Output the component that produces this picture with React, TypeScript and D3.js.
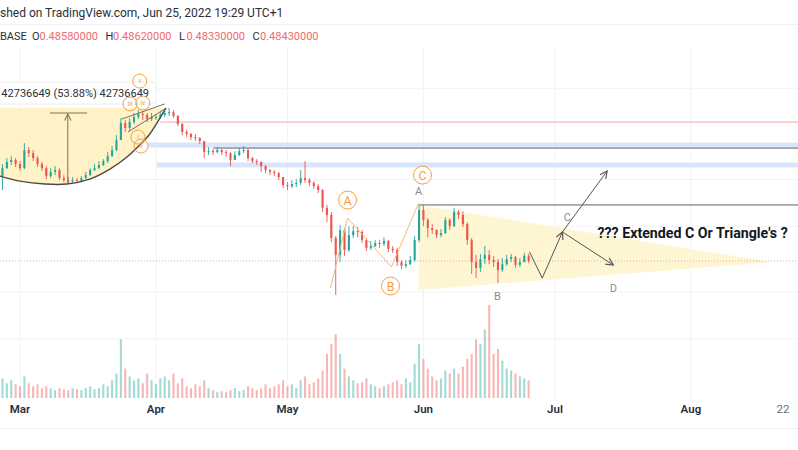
import React from 'react';
import * as d3 from 'd3';

const W = 798;
const H = 450;
const DAY = 86400000;
const MAR1 = Date.UTC(2022, 2, 1);
const at = (d: number) => new Date(MAR1 + d * DAY);

// Daily candles, first candle = Feb 24 2022 (day -5 from Mar 1), last = Jun 25 2022
const FIRST_DAY = -5;
const firstOpen = 0.807;
const closes = [
  0.817, 0.858, 0.891, 0.902, 0.880,
  0.858, 0.959, 0.941, 0.913, 0.880, 0.858, 0.817, 0.838, 0.848, 0.807,
  0.797, 0.792, 0.797, 0.792, 0.807, 0.822, 0.848, 0.858, 0.875, 0.896,
  0.924, 0.959, 1.020, 1.133, 1.099, 1.140, 1.176, 1.198, 1.190, 1.161,
  1.176, 1.176, 1.190, 1.205, 1.212, 1.183, 1.126, 1.072, 1.059, 1.039,
  1.033, 1.014, 0.947, 0.953, 0.947, 0.959, 0.947, 0.941, 0.902, 0.930,
  0.953, 0.959, 0.913, 0.896, 0.891, 0.869, 0.848, 0.838, 0.832, 0.812,
  0.773, 0.768, 0.778, 0.783, 0.807, 0.797, 0.783, 0.768, 0.750, 0.672,
  0.643, 0.558, 0.503, 0.586, 0.518, 0.568, 0.582, 0.579, 0.551, 0.525,
  0.531, 0.541, 0.538, 0.548, 0.522, 0.518, 0.481, 0.470, 0.475, 0.487,
  0.551, 0.663, 0.623, 0.593, 0.586, 0.568, 0.575, 0.623, 0.600, 0.655,
  0.643, 0.608, 0.551, 0.481, 0.464, 0.490, 0.503, 0.487, 0.481, 0.458,
  0.475, 0.490, 0.496, 0.473, 0.481, 0.500, 0.4843,
];
const highs = [
  0.843, 0.880, 0.913, 0.924, 0.913,
  0.896, 1.001, 0.977, 0.959, 0.924, 0.891, 0.869, 0.858, 0.869, 0.858,
  0.822, 0.812, 0.812, 0.807, 0.817, 0.838, 0.858, 0.880, 0.896, 0.907,
  0.947, 0.983, 1.052, 1.168, 1.154, 1.168, 1.205, 1.227, 1.220, 1.205,
  1.205, 1.198, 1.212, 1.227, 1.243, 1.227, 1.190, 1.133, 1.085, 1.065,
  1.059, 1.039, 1.014, 0.977, 0.965, 0.977, 0.965, 0.959, 0.947, 0.953,
  0.971, 0.983, 0.965, 0.919, 0.907, 0.896, 0.875, 0.853, 0.848, 0.838,
  0.812, 0.787, 0.797, 0.802, 0.848, 0.896, 0.807, 0.792, 0.778, 0.754,
  0.684, 0.655, 0.565, 0.604, 0.593, 0.600, 0.600, 0.597, 0.586, 0.558,
  0.548, 0.551, 0.551, 0.561, 0.551, 0.531, 0.525, 0.487, 0.487, 0.500,
  0.565, 0.688, 0.684, 0.631, 0.608, 0.589, 0.589, 0.635, 0.631, 0.672,
  0.663, 0.659, 0.615, 0.558, 0.503, 0.506, 0.531, 0.518, 0.500, 0.490,
  0.493, 0.503, 0.506, 0.500, 0.493, 0.509, 0.506,
];
const lows = [
  0.792, 0.750, 0.853, 0.875, 0.864,
  0.843, 0.853, 0.919, 0.896, 0.864, 0.843, 0.802, 0.807, 0.822, 0.797,
  0.787, 0.783, 0.783, 0.783, 0.787, 0.802, 0.817, 0.843, 0.853, 0.869,
  0.885, 0.919, 0.953, 1.020, 1.072, 1.085, 1.126, 1.161, 1.154, 1.140,
  1.147, 1.154, 1.161, 1.176, 1.183, 1.168, 1.112, 1.052, 1.039, 1.020,
  1.014, 0.995, 0.913, 0.930, 0.930, 0.941, 0.930, 0.919, 0.869, 0.902,
  0.924, 0.941, 0.896, 0.885, 0.875, 0.838, 0.832, 0.822, 0.817, 0.797,
  0.759, 0.750, 0.759, 0.764, 0.773, 0.783, 0.768, 0.754, 0.736, 0.655,
  0.615, 0.544, 0.393, 0.481, 0.500, 0.512, 0.558, 0.561, 0.541, 0.515,
  0.518, 0.528, 0.525, 0.531, 0.512, 0.509, 0.470, 0.461, 0.464, 0.4725,
  0.481, 0.544, 0.600, 0.561, 0.572, 0.558, 0.561, 0.572, 0.586, 0.597,
  0.627, 0.597, 0.535, 0.447, 0.436, 0.453, 0.475, 0.475, 0.467, 0.423,
  0.453, 0.470, 0.481, 0.464, 0.467, 0.481, 0.478,
];
const volumes = [
  30, 20, 15, 18, 14,
  12, 22, 15, 12, 14, 10, 12, 10, 8, 10,
  9, 8, 10, 9, 8, 10, 12, 9, 10, 14,
  12, 18, 25, 60, 30, 22, 18, 20, 15, 25,
  18, 14, 20, 22, 18, 25, 15, 20, 12, 10,
  14, 12, 18, 10, 8, 6, 7, 6, 8, 10,
  7, 8, 12, 10, 8, 10, 14, 10, 12, 14,
  18, 12, 14, 10, 18, 22, 14, 16, 20, 28,
  45, 55, 65, 45, 30, 22, 18, 15, 16, 20,
  14, 12, 10, 12, 14, 16, 18, 14, 20, 16,
  35, 55, 40, 30, 22, 18, 20, 28, 25, 30,
  25, 32, 40, 45, 60, 55, 70, 95, 45, 50,
  38, 30, 28, 25, 22, 20, 18,
];

// Time axis
const tickDays = [0, 31, 61, 92, 122, 153, 174];
const tickLabels = ['Mar', 'Apr', 'May', 'Jun', 'Jul', 'Aug', '22'];
const gridPrices = [0.3, 0.4, 0.6, 0.8, 1.0, 1.4];

// Header texts
const publishedText = 'shed on TradingView.com, Jun 25, 2022 19:29 UTC+1';
const symbolText = 'BASE';
const ohlcKeys = ['O', 'H', 'L', 'C'];
const ohlcValues = ['0.48580000', '0.48620000', '0.48330000', '0.48430000'];
const lastPrice = 0.4843;

// Cup (arc) drawing
const cupDays = [-8, -4.56, 0, 5.69, 10.7, 15.9, 20.5, 24.4, 27.3, 29.6, 31.9, 33.3];
const cupPrices = [0.843, 0.817, 0.792, 0.778, 0.778, 0.802, 0.853, 0.919, 0.989, 1.059, 1.168, 1.243];
const cupRim = 1.243;
// Price range measurement
const measureDay = 10.9;
const measureLow = 0.783;
const measureHigh = 1.205;
const measureCapDays = [6.83, 15.3];
const measureText = '42736649 (53.88%) 42736649';
// Wedge lines
const wedgeUpperDays = [23.2, 33.0];
const wedgeUpperPrices = [1.161, 1.274];
const wedgeLowerDays = [24.6, 33.0];
const wedgeLowerPrices = [1.072, 1.235];
// Small Elliott sub-wave circles
const subDays = [27.3, 25.1, 28.0, 26.9, 27.6];
const subPrices = [1.467, 1.274, 1.281, 1.039, 0.983];
const subLabels = ['v', 'iii', 'iv', 'i', 'ii'];

// Horizontal levels
const levelKinds = ['red', 'band', 'dark', 'band', 'dark'];
const levelStartDays = [32.0, 29.2, 44.1, 31.2, 91.1];
const levelPrices = [1.140, 0.989, 0.971, 0.875, 0.684];

// ABC correction
const abcDays = [70.8, 74.7, 84.7, 90.9];
const abcPrices = [0.410, 0.631, 0.467, 0.692];
const waveLabels = ['A', 'B', 'C'];
const waveDays = [74.7, 84.5, 91.8];
const wavePrices = [0.705, 0.415, 0.822];

// Triangle
const triDays = [90.9, 171.5, 90.9];
const triPrices = [0.684, 0.481, 0.405];

// Projection path
const projDays = [116.2, 119.1, 123.7];
const projPrices = [0.512, 0.436, 0.579];
const branchDays = [133.9, 135.3];
const branchPrices = [0.843, 0.4725];

// Gray labels
const grayLabels = ['A', 'B', 'C', 'D'];
const grayDays = [90.9, 108.9, 124.8, 135.3];
const grayPrices = [0.741, 0.388, 0.635, 0.410];

const noteText = "??? Extended C Or Triangle's ?";
const noteDay = 131.7;
const notePrice = 0.575;

const FONT = "Roboto, 'Noto Sans', 'DejaVu Sans', sans-serif";
const UP = '#26a69a';
const DOWN = '#ef5350';
const ORANGE = '#f6a13f';

export default function App() {
  const x = d3.scaleUtc().domain([at(0), at(174)]).range([20, 783]);
  const y = d3.scaleLog().domain([lastPrice, measureHigh]).range([261, 113]);
  const v = d3.scaleLinear().domain([0, 100]).range([398, 300]);
  const X = (d: number) => x(at(d));

  const candles = closes.map((c, i) => ({
    d: i + FIRST_DAY,
    o: i === 0 ? firstOpen : closes[i - 1],
    h: highs[i],
    l: lows[i],
    c,
    vol: volumes[i],
  }));

  const line = d3.line<[number, number]>().x((p) => X(p[0])).y((p) => y(p[1]));
  const cupPts: [number, number][] = cupDays.map((d, i) => [d, cupPrices[i]]);
  const cupCurve = d3.line<[number, number]>().x((p) => X(p[0])).y((p) => y(p[1])).curve(d3.curveCatmullRom);
  const cupPath = cupCurve(cupPts) as string;
  const cupFill = cupPath + `L${X(cupDays[0])},${y(cupRim)}Z`;

  const triPath = line(triDays.map((d, i) => [d, triPrices[i]] as [number, number])) + 'Z';
  const abcPath = line(abcDays.map((d, i) => [d, abcPrices[i]] as [number, number]));
  const bw = 2.1;

  return (
    <svg width={W} height={H} style={{ position: 'absolute', left: 0, top: 0, background: '#fff' }} fontFamily={FONT}>
      <defs>
        <marker id="arrG" viewBox="0 0 10 10" refX="9" refY="5" markerWidth="9" markerHeight="9" markerUnits="userSpaceOnUse" orient="auto">
          <path d="M1,1 L9,5 L1,9" fill="none" stroke="#555" strokeWidth="1.3" />
        </marker>
        <marker id="arrM" viewBox="0 0 10 10" refX="9" refY="5" markerWidth="8" markerHeight="8" markerUnits="userSpaceOnUse" orient="auto">
          <path d="M1,1 L9,5 L1,9" fill="none" stroke="#7d7358" strokeWidth="1.3" />
        </marker>
      </defs>
      <rect x={0} y={0} width={W} height={H} fill="#fff" />

      {/* header */}
      <text x={0} y={17} fontSize={12} fill="#2a2e39">{publishedText}</text>
      <line x1={0} x2={W} y1={24.5} y2={24.5} stroke="#eef0f3" />
      <text y={40} fontSize={11} fill="#2a2e39">
        <tspan x={0}>{symbolText}</tspan>
        {ohlcKeys.map((k, i) => (
          <React.Fragment key={k}>
            <tspan x={32 + i * 73.5} fill="#2a2e39">{k}</tspan>
            <tspan x={39.5 + i * 73.5} fill="#ef6a6a">{ohlcValues[i]}</tspan>
          </React.Fragment>
        ))}
      </text>

      {/* grid */}
      {gridPrices.map((p) => (
        <line key={'g' + p} x1={0} x2={W} y1={y(p)} y2={y(p)} stroke="#f2f3f6" />
      ))}
      {tickDays.slice(0, 6).map((d) => (
        <line key={'vg' + d} x1={X(d)} x2={X(d)} y1={48} y2={400} stroke="#f2f3f6" />
      ))}

      {/* fills */}
      <path d={cupFill} fill="#fef2c6" />
      <path d={triPath} fill="#fef5d2" />

      {/* horizontal levels */}
      {levelKinds.map((k, i) => {
        const yy = y(levelPrices[i]);
        const x0 = X(levelStartDays[i]);
        if (k === 'band') return <rect key={'lv' + i} x={x0} y={yy - 2.5} width={W - x0} height={5} fill="#d9e5fb" />;
        if (k === 'red') return <line key={'lv' + i} x1={x0} x2={W} y1={yy} y2={yy} stroke="#f4a6a6" strokeWidth={1} />;
        return <line key={'lv' + i} x1={x0} x2={W} y1={yy} y2={yy} stroke="#5d606b" strokeWidth={1} />;
      })}
      <line x1={0} x2={W} y1={y(lastPrice)} y2={y(lastPrice)} stroke="#f3a3a3" strokeWidth={1} strokeDasharray="1 2" />

      {/* volume */}
      {candles.map((k) => (
        <rect key={'v' + k.d} x={X(k.d) - bw / 2} y={v(k.vol)} width={bw} height={v(0) - v(k.vol)}
          fill={k.c >= k.o ? 'rgba(38,166,154,0.42)' : 'rgba(239,83,80,0.42)'} />
      ))}

      {/* candles */}
      {candles.map((k) => {
        const col = k.c >= k.o ? UP : DOWN;
        const cx = X(k.d);
        const top = Math.min(y(k.o), y(k.c));
        const hgt = Math.max(1, Math.abs(y(k.o) - y(k.c)));
        return (
          <g key={'c' + k.d}>
            <line x1={cx} x2={cx} y1={y(k.h)} y2={y(k.l)} stroke={col} strokeWidth={0.9} />
            <rect x={cx - bw / 2} y={top} width={bw} height={hgt} fill={col} />
          </g>
        );
      })}

      {/* cup arc */}
      <path d={cupPath} fill="none" stroke="#4a4a4a" strokeWidth={1.4} />
      {/* wedge */}
      <path d={line([[wedgeUpperDays[0], wedgeUpperPrices[0]], [wedgeUpperDays[1], wedgeUpperPrices[1]]])!} stroke="#6b6f7a" strokeWidth={1} fill="none" />
      <path d={line([[wedgeLowerDays[0], wedgeLowerPrices[0]], [wedgeLowerDays[1], wedgeLowerPrices[1]]])!} stroke="#6b6f7a" strokeWidth={1} fill="none" />

      {/* measurement */}
      <line x1={X(measureDay)} x2={X(measureDay)} y1={y(measureLow)} y2={y(measureHigh) + 1} stroke="#7d7358" strokeWidth={1} markerEnd="url(#arrM)" />
      <line x1={X(measureCapDays[0])} x2={X(measureCapDays[1])} y1={y(measureHigh)} y2={y(measureHigh)} stroke="#7d7358" strokeWidth={1} />
      <rect x={-8} y={y(measureHigh) - 31} width={164} height={22} rx={4} fill="#fff" stroke="#eceef2" />
      <text x={149} y={y(measureHigh) - 16} fontSize={11} fill="#2a2e39" textAnchor="end">{measureText}</text>

      {/* sub-wave circles */}
      {subLabels.map((s, i) => (
        <g key={'s' + i}>
          <circle cx={X(subDays[i])} cy={y(subPrices[i])} r={7} fill="none" stroke={ORANGE} strokeWidth={1} />
          <text x={X(subDays[i])} y={y(subPrices[i])} fontSize={6.5} fill={ORANGE} textAnchor="middle" dominantBaseline="central">{s}</text>
        </g>
      ))}

      {/* ABC */}
      <path d={abcPath!} fill="none" stroke="#f8b878" strokeWidth={1} />
      {waveLabels.map((s, i) => (
        <g key={'w' + s}>
          <circle cx={X(waveDays[i])} cy={y(wavePrices[i])} r={9} fill="#fff" fillOpacity={0.6} stroke={ORANGE} strokeWidth={1} />
          <text x={X(waveDays[i])} y={y(wavePrices[i]) + 0.5} fontSize={12.5} fill={ORANGE} textAnchor="middle" dominantBaseline="central">{s}</text>
        </g>
      ))}

      {/* projection */}
      <path d={line(projDays.map((d, i) => [d, projPrices[i]] as [number, number]))!} fill="none" stroke="#555" strokeWidth={1} markerEnd="url(#arrG)" />
      {branchDays.map((d, i) => (
        <path key={'b' + i} d={line([[projDays[2], projPrices[2]], [d, branchPrices[i]]])!} fill="none" stroke="#555" strokeWidth={1} markerEnd="url(#arrG)" />
      ))}

      {grayLabels.map((s, i) => (
        <text key={'gl' + s} x={X(grayDays[i])} y={y(grayPrices[i])} fontSize={11} fill="#8a8d96" textAnchor="middle" dominantBaseline="central">{s}</text>
      ))}

      <text x={X(noteDay)} y={y(notePrice)} fontSize={14.2} fontWeight={700} fill="#131722" dominantBaseline="central">{noteText}</text>

      {/* time axis */}
      {tickDays.map((d, i) => (
        <text key={'t' + d} x={X(d)} y={413} fontSize={11.5} fontWeight={i < 6 ? 600 : 400} fill={i < 6 ? '#2a2e39' : '#6a6d78'} textAnchor="middle">{tickLabels[i]}</text>
      ))}
      <line x1={0} x2={W} y1={428.5} y2={428.5} stroke="#f0f1f4" />
    </svg>
  );
}
